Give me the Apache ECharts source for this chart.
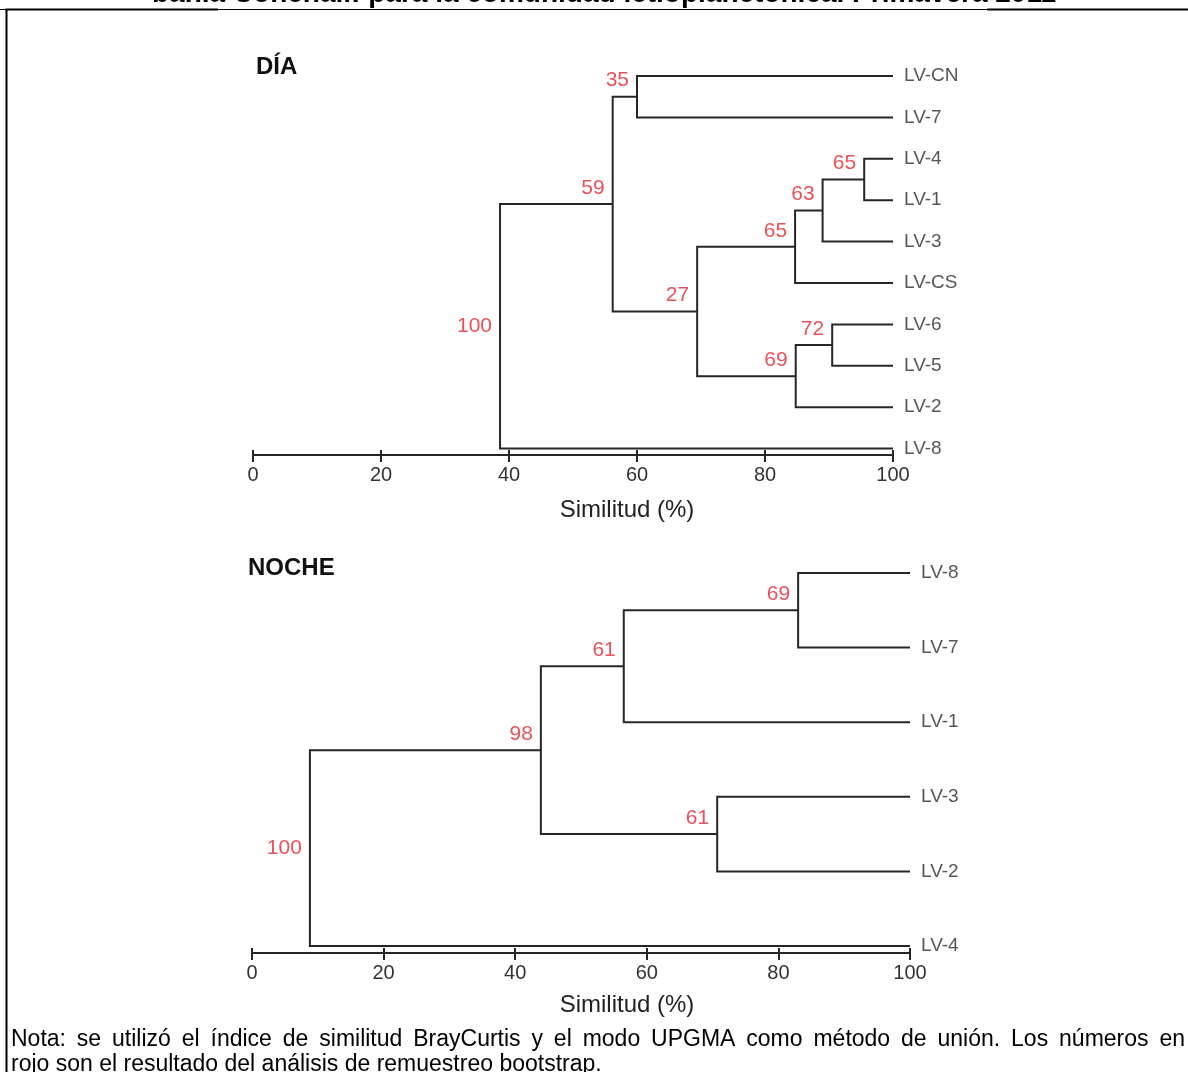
<!DOCTYPE html>
<html>
<head>
<meta charset="utf-8">
<script src="https://cdn.jsdelivr.net/npm/echarts@6/dist/echarts.min.js"></script>
<style>
    html, body { margin: 0; padding: 0; background: #fff; }
    #chart { width: 1188px; height: 1072px; }
</style>
</head>
<body>
<div id="chart"></div>
<script>
// Dendrograma DÍA: hojas de arriba hacia abajo
var diaLeaves = ['LV-CN', 'LV-7', 'LV-4', 'LV-1', 'LV-3', 'LV-CS', 'LV-6', 'LV-5', 'LV-2', 'LV-8'];
// uniones: [grupo A, grupo B, similitud (%), bootstrap]; el nodo k se llama 'n' + k
var diaMerges = [
    ['LV-CN', 'LV-7', 60.0, 35],
    ['LV-4', 'LV-1', 95.5, 65],
    ['n2', 'LV-3', 89.0, 63],
    ['n3', 'LV-CS', 84.7, 65],
    ['LV-6', 'LV-5', 90.5, 72],
    ['n5', 'LV-2', 84.8, 69],
    ['n4', 'n6', 69.4, 27],
    ['n1', 'n7', 56.2, 59],
    ['n8', 'LV-8', 38.6, 100]
];

// Dendrograma NOCHE
var nocheLeaves = ['LV-8', 'LV-7', 'LV-1', 'LV-3', 'LV-2', 'LV-4'];
var nocheMerges = [
    ['LV-8', 'LV-7', 83.0, 69],
    ['n1', 'LV-1', 56.5, 61],
    ['LV-3', 'LV-2', 70.7, 61],
    ['n2', 'n3', 43.9, 98],
    ['n4', 'LV-4', 8.8, 100]
];

var xTicks = [0, 20, 40, 60, 80, 100];
var axisName = 'Similitud (%)';
var titleText = 'bahía Conchalí: para la comunidad ictioplanctónica. Primavera 2011';
var noteLine1 = 'Nota: se utilizó el índice de similitud BrayCurtis y el modo UPGMA como método de unión. Los números en';
var noteLine2 = 'rojo son el resultado del análisis de remuestreo bootstrap.';

var FONT = 'Arial, "Liberation Sans", Helvetica, sans-serif';
var LINE = '#262626';
var RED = '#e3262f';

// arma las ramas (forma de U) y los nodos a partir de las uniones
function buildTree(leaves, merges) {
    var pos = {};
    leaves.forEach(function (l, i) {
        pos[l] = {x: 100, y: leaves.length - 1 - i};
    });
    var links = [], nodes = [], tips = [];
    leaves.forEach(function (l) {
        tips.push({value: [100, pos[l].y], name: l});
    });
    merges.forEach(function (m, k) {
        var a = pos[m[0]], b = pos[m[1]];
        var y = (a.y + b.y) / 2;
        pos['n' + (k + 1)] = {x: m[2], y: y};
        links.push({coords: [[a.x, a.y], [m[2], a.y], [m[2], b.y], [b.x, b.y]]});
        var isRoot = k === merges.length - 1;
        nodes.push({
            value: [m[2], y],
            name: String(m[3]),
            label: {offset: isRoot ? [0, 0] : [0, -16]}
        });
    });
    return {links: links, nodes: nodes, tips: tips};
}

function xAxes(grid, nameGap, namePad) {
    return [{
        gridIndex: grid, type: 'value', position: 'bottom',
        min: xTicks[0], max: xTicks[xTicks.length - 1], interval: xTicks[1] - xTicks[0],
        name: axisName, nameLocation: 'middle', nameGap: nameGap,
        nameTextStyle: {fontFamily: FONT, fontSize: 24, color: '#222', padding: [0, 0, 0, namePad]},
        axisLine: {onZero: false, lineStyle: {color: LINE, width: 2}},
        axisTick: {show: true, length: 7, lineStyle: {color: LINE, width: 2}},
        axisLabel: {fontFamily: FONT, fontSize: 20, color: '#333', margin: 10},
        splitLine: {show: false}
    }, {
        // marcas hacia dentro, para que crucen la línea del eje
        gridIndex: grid, type: 'value', position: 'bottom',
        min: xTicks[0], max: xTicks[xTicks.length - 1], interval: xTicks[1] - xTicks[0],
        axisLine: {show: false, onZero: false},
        axisTick: {show: true, inside: true, length: 5, lineStyle: {color: LINE, width: 2}},
        axisLabel: {show: false},
        splitLine: {show: false}
    }];
}

function treeSeries(tree, xi, yi) {
    return [{
        type: 'lines', coordinateSystem: 'cartesian2d', polyline: true,
        xAxisIndex: xi, yAxisIndex: yi, silent: true,
        lineStyle: {color: LINE, width: 2, opacity: 1},
        data: tree.links
    }, {
        type: 'scatter', xAxisIndex: xi, yAxisIndex: yi, symbolSize: 0, silent: true,
        label: {show: true, position: 'right', distance: 11, formatter: '{b}',
            fontFamily: FONT, fontSize: 19, color: '#2a2a2a'},
        data: tree.tips
    }, {
        type: 'scatter', xAxisIndex: xi, yAxisIndex: yi, symbolSize: 0, silent: true,
        label: {show: true, position: 'left', distance: 8, formatter: '{b}',
            fontFamily: FONT, fontSize: 21, color: RED},
        data: tree.nodes
    }];
}

// texto justificado palabra por palabra
function justified(text, x0, x1, y, font) {
    var ctx = document.createElement('canvas').getContext('2d');
    ctx.font = font;
    var words = text.split(' ');
    var widths = words.map(function (w) { return ctx.measureText(w).width; });
    var total = widths.reduce(function (s, w) { return s + w; }, 0);
    var gap = (x1 - x0 - total) / (words.length - 1);
    var out = [], x = x0;
    words.forEach(function (w, i) {
        out.push({type: 'text', x: x, y: y,
            style: {text: w, font: font, fill: '#000', textVerticalAlign: 'middle'}});
        x += widths[i] + gap;
    });
    return out;
}

var dia = buildTree(diaLeaves, diaMerges);
var noche = buildTree(nocheLeaves, nocheMerges);

var myChart = echarts.init(document.getElementById('chart'));

var noteFont = '23px ' + FONT;
var graphics = [
    {type: 'text', x: 604, y: -6, style: {text: titleText, font: 'bold 28px ' + FONT, fill: '#000',
        textAlign: 'center', textVerticalAlign: 'middle'}},
    {type: 'line', shape: {x1: 0, y1: 9.5, x2: 1188, y2: 9.5}, style: {stroke: '#000', lineWidth: 1}},
    {type: 'line', shape: {x1: 5, y1: 9.5, x2: 218, y2: 9.5}, style: {stroke: '#000', lineWidth: 2}},
    {type: 'line', shape: {x1: 987, y1: 9.5, x2: 1188, y2: 9.5}, style: {stroke: '#000', lineWidth: 2}},
    {type: 'line', shape: {x1: 6.5, y1: 9, x2: 6.5, y2: 1072}, style: {stroke: '#000', lineWidth: 2}},
    {type: 'text', x: 256, y: 67, style: {text: 'DÍA', font: 'bold 24px ' + FONT, fill: '#111',
        textVerticalAlign: 'middle'}},
    {type: 'text', x: 248, y: 568, style: {text: 'NOCHE', font: 'bold 24px ' + FONT, fill: '#111',
        textVerticalAlign: 'middle'}},
    {type: 'text', x: 11, y: 1065, style: {text: noteLine2, font: noteFont, fill: '#000',
        textVerticalAlign: 'middle'}}
].concat(justified(noteLine1, 11, 1185, 1040, noteFont));

var option = {
    animation: false,
    backgroundColor: '#fff',
    grid: [
        {left: 253, top: 76, width: 640, height: 379},
        {left: 252, top: 573, width: 658, height: 380}
    ],
    xAxis: xAxes(0, 43, 108).concat(xAxes(1, 40, 92)),
    yAxis: [
        {gridIndex: 0, type: 'value', min: -0.155, max: diaLeaves.length - 1, show: false},
        {gridIndex: 1, type: 'value', min: -0.094, max: nocheLeaves.length - 1, show: false}
    ],
    series: treeSeries(dia, 0, 0).concat(treeSeries(noche, 2, 1)),
    graphic: graphics
};

myChart.setOption(option);
</script>
</body>
</html>
